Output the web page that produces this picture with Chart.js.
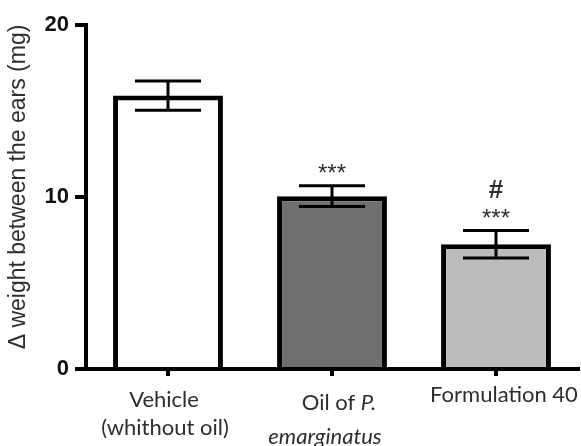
<!DOCTYPE html>
<html>
<head>
<meta charset="utf-8">
<script src="https://cdn.jsdelivr.net/npm/chart.js@4.4.0/dist/chart.umd.min.js"></script>
<style>
  html, body { margin: 0; padding: 0; background: #ffffff; }
  canvas { display: block; }
</style>
</head>
<body>
<canvas id="chart" width="581" height="446"></canvas>
<script>
// Ear-weight difference per treatment group (mean ± SEM, mg)
const groups = [['Vehicle', '(whithout oil)'], ['Oil of P.', 'emarginatus'], ['Formulation 40']];
const meanWeight = [15.9, 10.05, 7.25];
const semWeight = [0.85, 0.6, 0.8];
const vsVehicle = ['', '***', '***'];   // significance vs vehicle
const vsOil = ['', '', '#'];            // significance vs oil
const yTicks = [0, 10, 20];
const yTitle = 'Δ weight between the ears (mg)';
const italicWords = ['P.', 'emarginatus'];

const barFills = ['#ffffff', '#6f6f6f', '#bcbcbc'];
const ink = '#000000';
const textInk = '#2e2e2e';

// Error bars and significance marks on top of each bar
const errorBarPlugin = {
  id: 'errorBars',
  afterDatasetsDraw(chart) {
    const { ctx, scales: { y } } = chart;
    const meta = chart.getDatasetMeta(0);
    ctx.save();
    ctx.strokeStyle = ink;
    ctx.lineWidth = 3;
    meta.data.forEach((bar, i) => {
      const cx = bar.x;
      const hi = y.getPixelForValue(meanWeight[i] + semWeight[i]);
      const lo = y.getPixelForValue(meanWeight[i] - semWeight[i]);
      const half = 33;
      ctx.beginPath();
      ctx.moveTo(cx, hi); ctx.lineTo(cx, lo);
      ctx.moveTo(cx - half, hi); ctx.lineTo(cx + half, hi);
      ctx.moveTo(cx - half, lo); ctx.lineTo(cx + half, lo);
      ctx.stroke();

      ctx.fillStyle = textInk;
      ctx.textAlign = 'center';
      ctx.textBaseline = 'middle';
      if (vsVehicle[i]) {
        ctx.font = '24px "Liberation Sans", Arial, sans-serif';
        ctx.fillText(vsVehicle[i], cx, hi - 11);
      }
      if (vsOil[i]) {
        ctx.font = 'bold 26px "Liberation Sans", Arial, sans-serif';
        ctx.fillText(vsOil[i], cx, hi - 40);
      }
    });
    ctx.restore();
  }
};

// Category labels (species name in italics) and the y-axis title
const labelPlugin = {
  id: 'categoryLabels',
  afterDraw(chart) {
    const { ctx, scales: { x, y } } = chart;
    const base = y.getPixelForValue(0);
    const rows = [[31, 59], [34, 68], [26]];
    const shifts = [[-4, -3], [7, -7], [8]];
    const upright = '22px Lato, "Open Sans", sans-serif';
    const slanted = 'italic 22px Lato, "Open Sans", sans-serif';
    ctx.save();
    ctx.fillStyle = textInk;
    ctx.textBaseline = 'middle';
    ctx.textAlign = 'left';
    groups.forEach((lines, i) => {
      const cx = x.getPixelForValue(i);
      lines.forEach((line, j) => {
        const words = line.split(' ');
        const parts = words.map(w => ({ w, font: italicWords.includes(w) ? slanted : upright }));
        ctx.font = upright;
        const space = ctx.measureText(' ').width;
        let total = 0;
        parts.forEach((p, k) => {
          ctx.font = p.font;
          p.width = ctx.measureText(p.w).width;
          total += p.width + (k ? space : 0);
        });
        let px = cx + shifts[i][j] - total / 2;
        const py = base + rows[i][j];
        parts.forEach(p => {
          ctx.font = p.font;
          ctx.fillText(p.w, px, py);
          px += p.width + space;
        });
      });
    });

    ctx.translate(19, 187);
    ctx.rotate(-Math.PI / 2);
    ctx.textAlign = 'center';
    ctx.font = '23px "Liberation Sans", Arial, sans-serif';
    ctx.fillText(yTitle, 0, 0);
    ctx.restore();
  }
};

new Chart(document.getElementById('chart'), {
  type: 'bar',
  data: {
    labels: groups,
    datasets: [{
      data: meanWeight,
      backgroundColor: barFills,
      borderColor: ink,
      borderWidth: 5,
      borderSkipped: 'start',
      barPercentage: 0.67,
      categoryPercentage: 1.0
    }]
  },
  options: {
    responsive: false,
    animation: false,
    devicePixelRatio: 1,
    layout: { padding: { top: 25, right: 3, left: 0, bottom: 0 } },
    plugins: { legend: { display: false }, tooltip: { enabled: false } },
    scales: {
      x: {
        z: 1,
        offset: true,
        grid: { display: true, offset: false, drawOnChartArea: false, drawTicks: true, tickLength: 7, lineWidth: 4, color: ink },
        border: { display: true, width: 4, color: ink },
        ticks: { display: false },
        afterFit(scale) { scale.height = 77; }
      },
      y: {
        z: 1,
        min: 0,
        max: 20,
        afterBuildTicks(scale) { scale.ticks = yTicks.map(v => ({ value: v })); },
        grid: { display: true, drawOnChartArea: false, drawTicks: true, tickLength: 11, lineWidth: 4, color: ink },
        border: { display: true, width: 4, color: ink },
        ticks: {
          padding: 6,
          color: '#111111',
          font: { family: '"Liberation Sans", Arial, sans-serif', size: 22, weight: 'bold' }
        },
        afterFit(scale) { scale.width = 86; }
      }
    }
  },
  plugins: [errorBarPlugin, labelPlugin]
});
</script>
</body>
</html>
